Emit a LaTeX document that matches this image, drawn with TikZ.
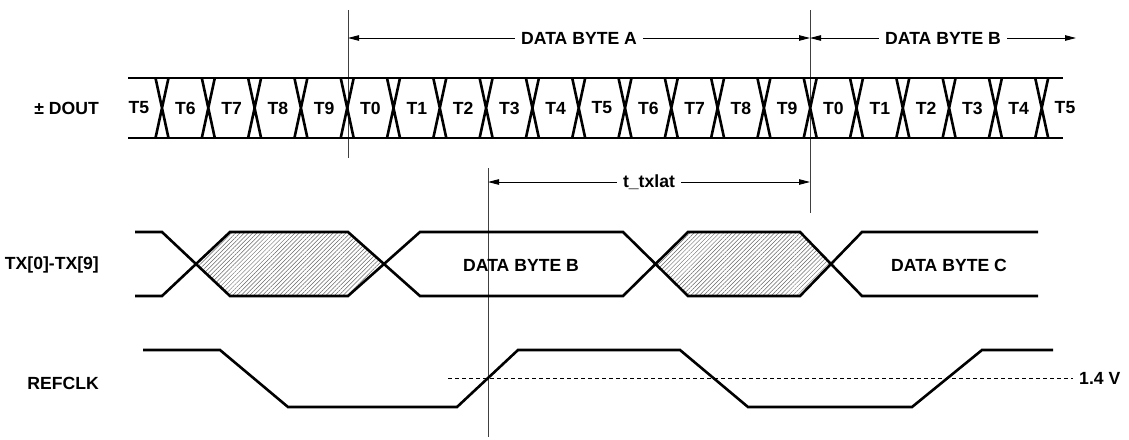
\documentclass[tikz,border=0pt]{standalone}
\usepackage{fontspec}
\setmainfont{Liberation Sans}
\usetikzlibrary{arrows.meta,patterns.meta}

\tikzset{
  sig/.style={line width=2.6pt, line join=miter},
  marker/.style={line width=0.9pt, black!75},
  dim/.style={line width=0.9pt, {Triangle[length=11pt,width=5.5pt]}-{Triangle[length=11pt,width=5.5pt]}},
  lbl/.style={font=\fontsize{17.6}{20}\selectfont\bfseries, inner sep=1pt},
  gap/.style={lbl, fill=white, inner xsep=6pt},
  hatch/.style={pattern={Lines[angle=45,distance=3pt,line width=0.5pt]}, pattern color=black!60},
}

\begin{document}
\begin{tikzpicture}[x=1pt,y=-1pt]
  \useasboundingbox (0,0) rectangle (1129,439);
  % signal names
  \node[lbl,anchor=east] (DOUT) at (100,108) {± DOUT};
  \node[lbl,anchor=east] (TX) at (100,265) {TX[0]-TX[9]};
  \node[lbl,anchor=east] (REFCLK) at (100,383) {REFCLK};
  % marker lines
  \coordinate (mA0) at (348,10);  \coordinate (mA1) at (348,158);
  \coordinate (mB0) at (810,10);  \coordinate (mB1) at (810,213);
  \coordinate (mL0) at (488,168); \coordinate (mL1) at (488,437);
  \draw[marker] (mA0) -- (mA1);
  \draw[marker] (mB0) -- (mB1);
  \draw[marker] (mL0) -- (mL1);
  % byte and latency spans
  \coordinate (byteA0) at (348,38);
  \coordinate (byteA1) at (810,38);
  \coordinate (byteB1) at (1076,38);
  \coordinate (lat0) at (488,182);
  \coordinate (lat1) at (810,182);
  \draw[dim] (byteA0) -- node[gap] (byteA) {DATA BYTE A} (byteA1);
  \draw[dim] (byteA1) -- node[gap] (byteB) {DATA BYTE B} (byteB1);
  \draw[dim] (lat0) -- node[gap] (lat) {t\_txlat} (lat1);
  % serial output
  \draw[sig] (128,78) -- (1063,78) (128,138) -- (1063,138);
  \foreach \i in {0,...,19}
    \draw[sig] ({162+46.3*\i-6.5},78) -- ({162+46.3*\i+6.5},138)
               ({162+46.3*\i+6.5},78) -- ({162+46.3*\i-6.5},138);
  \foreach \t [count=\i from 0] in {5,6,7,8,9,0,1,2,3,4,5,6,7,8,9,0,1,2,3,4,5}
    \node[lbl] (T\i) at ({139+46.3*\i},108) {T\t};
  % parallel input
  \fill[hatch] (196,264) -- (230,232) -- (348,232) -- (384,264) -- (348,296) -- (230,296) -- cycle;
  \fill[hatch] (656,264) -- (688,232) -- (800,232) -- (831,264) -- (800,296) -- (688,296) -- cycle;
  \draw[sig] (135,232) -- (162,232) -- (230,296) -- (348,296) -- (420,232) -- (623,232)
             -- (688,296) -- (800,296) -- (862,232) -- (1038,232);
  \draw[sig] (135,296) -- (162,296) -- (230,232) -- (348,232) -- (420,296) -- (623,296)
             -- (688,232) -- (800,232) -- (862,296) -- (1038,296);
  \node[lbl] (dataB) at (521,265) {DATA BYTE B};
  \node[lbl] (dataC) at (949,265) {DATA BYTE C};
  % reference clock
  \draw[sig] (143,350) -- (220,350) -- (288,407) -- (457,407) -- (518,350) -- (680,350)
             -- (748,407) -- (912,407) -- (982,350) -- (1053,350);
  \coordinate (vth0) at (448,378);
  \coordinate (vth1) at (1073,378);
  \draw[line width=0.9pt, dash pattern=on 4pt off 3pt] (vth0) -- (vth1);
  \node[lbl,anchor=west] (vth) at (1078,378) {1.4 V};
\end{tikzpicture}
\end{document}
